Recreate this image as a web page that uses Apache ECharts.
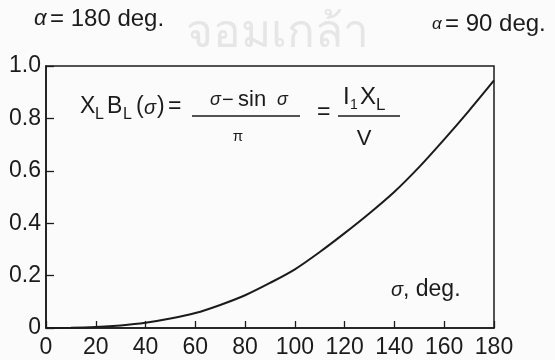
<!DOCTYPE html>
<html>
<head>
<meta charset="utf-8">
<script src="https://cdn.jsdelivr.net/npm/echarts@6/dist/echarts.min.js"></script>
<style>
  html, body { margin: 0; padding: 0; background: #fbfbfb; }
  #chart { width: 555px; height: 360px; }
</style>
</head>
<body>
<div id="chart"></div>
<script>
// Conduction angle sigma (degrees) and normalised susceptance X_L*B_L(sigma)
const sigmaDeg = [0, 10, 20, 30, 40, 50, 60, 70, 80, 90, 100, 110, 120, 130, 140, 150, 160, 170, 180];
const susceptance = [0, 0.001, 0.004, 0.01, 0.02, 0.036, 0.057, 0.088, 0.125, 0.172, 0.224, 0.29, 0.362, 0.438, 0.52, 0.615, 0.72, 0.83, 0.945];

// Axis tick labels
const xTickLabels = ['0', '20', '40', '60', '80', '100', '120', '140', '160', '180'];
const yTickLabels = ['0', '0.2', '0.4', '0.6', '0.8', '1.0'];

const ink = '#1b1b1b';
const fontFamily = '"Liberation Sans", Arial, sans-serif';

const chart = echarts.init(document.getElementById('chart'), null, { renderer: 'canvas' });

function txt(x, y, text, size, opts) {
  opts = opts || {};
  return {
    type: 'text', x: x, y: y, z: 10,
    style: {
      text: text,
      font: (opts.italic ? 'italic ' : '') + size + 'px ' + fontFamily,
      fill: opts.fill || ink,
      align: opts.align || 'left',
      verticalAlign: 'middle'
    }
  };
}

function rule(x1, x2, y) {
  return { type: 'line', z: 10, shape: { x1: x1, y1: y, x2: x2, y2: y }, style: { stroke: ink, lineWidth: 1.5 } };
}

chart.setOption({
  backgroundColor: '#fbfbfb',
  animation: false,
  grid: {
    left: 46, right: 61, top: 66, bottom: 32,
    show: true, borderColor: ink, borderWidth: 1.5, backgroundColor: 'transparent'
  },
  xAxis: {
    type: 'value', min: 0, max: 180, interval: 20,
    axisLine: { show: true, lineStyle: { color: ink, width: 1.6 } },
    axisTick: { show: true, inside: true, length: 7, lineStyle: { color: ink, width: 1.3 } },
    axisLabel: {
      margin: 8, color: ink, fontSize: 23, fontFamily: fontFamily,
      formatter: function (v) { return xTickLabels[Math.round(v / 20)]; }
    },
    splitLine: { show: false }
  },
  yAxis: {
    type: 'value', min: 0, max: 1, interval: 0.2,
    axisLine: { show: true, lineStyle: { color: ink, width: 1.6 } },
    axisTick: { show: true, inside: true, length: 8, lineStyle: { color: ink, width: 1.3 } },
    axisLabel: {
      margin: 5, color: ink, fontSize: 23, fontFamily: fontFamily,
      formatter: function (v) { return yTickLabels[Math.round(v / 0.2)]; }
    },
    splitLine: { show: false }
  },
  series: [{
    type: 'line',
    data: sigmaDeg.map(function (s, i) { return [s, susceptance[i]]; }),
    smooth: 0.3,
    showSymbol: false,
    lineStyle: { color: ink, width: 2 }
  }],
  graphic: [
    // faint institutional watermark
    txt(186, 34, 'จอมเกล้า', 46, { fill: '#e6e6e6' }),

    // firing-angle captions
    txt(34, 19, 'α', 22, { italic: true }),
    txt(50, 19, '= 180 deg.', 24),
    txt(432, 24, 'α', 17, { italic: true }),
    txt(445, 24, '= 90 deg.', 24),

    // X_L B_L(σ) =
    txt(80, 107, 'X', 23),
    txt(95, 115, 'L', 16),
    txt(107, 107, 'B', 23),
    txt(123, 115, 'L', 16),
    txt(136, 107, '(', 23),
    txt(144, 108, 'σ', 20, { italic: true }),
    txt(157, 107, ')', 23),
    txt(168, 107, '=', 23),
    // (σ − sin σ) / π
    rule(192, 300, 116),
    txt(210, 100, 'σ', 18, { italic: true }),
    txt(222, 100, '−', 20),
    txt(238, 100, 'sin', 22),
    txt(277, 100, 'σ', 18, { italic: true }),
    txt(238, 137, 'π', 15, { align: 'center' }),
    // = I1 X_L / V
    txt(317, 113, '=', 23),
    txt(343, 97, 'I', 24),
    txt(350, 105, '1', 14),
    txt(360, 97, 'X', 24),
    txt(376, 105, 'L', 17),
    rule(338, 400, 116),
    txt(364, 139, 'V', 22, { align: 'center' }),

    // abscissa caption
    txt(391, 290, 'σ', 20, { italic: true }),
    txt(403, 290, ', deg.', 23)
  ]
});
</script>
</body>
</html>
